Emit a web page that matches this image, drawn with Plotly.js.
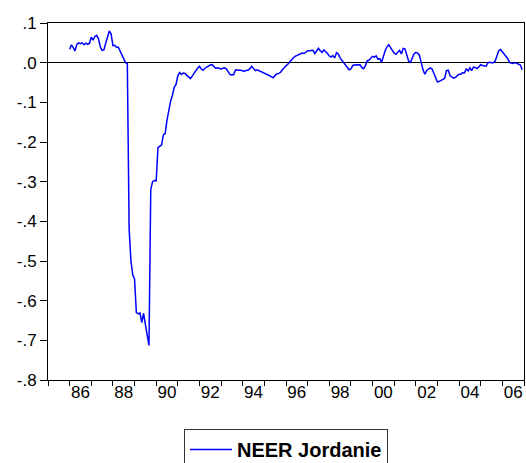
<!DOCTYPE html>
<html>
<head>
<meta charset="utf-8">
<script src="https://cdn.plot.ly/plotly-3.0.1.min.js"></script>
<style>html,body{margin:0;padding:0;background:#fff;}#chart{width:526px;height:463px;}</style>
</head>
<body>
<div id="chart"></div>
<script>
// Monthly NEER Jordanie, Jan 1986 – Dec 2006
const seriesName = "NEER Jordanie";
const startYear = 1986;
const neer = [
  // 1986
  0.034, 0.045, 0.038, 0.030, 0.046, 0.050, 0.048, 0.050, 0.045, 0.049, 0.046, 0.049,
  // 1987
  0.064, 0.057, 0.066, 0.069, 0.060, 0.040, 0.031, 0.032, 0.049, 0.066, 0.080, 0.072,
  // 1988
  0.043, 0.044, 0.039, 0.039, 0.029, 0.020, 0.007, 0.000, -0.002, -0.420, -0.500, -0.535,
  // 1989
  -0.545, -0.630, -0.633, -0.631, -0.655, -0.632, -0.660, -0.690, -0.713, -0.320, -0.300, -0.297,
  // 1990
  -0.298, -0.214, -0.211, -0.207, -0.182, -0.178, -0.145, -0.120, -0.097, -0.082, -0.062, -0.055,
  // 1991
  -0.033, -0.025, -0.030, -0.026, -0.027, -0.032, -0.037, -0.040, -0.034, -0.026, -0.020, -0.014,
  // 1992
  -0.009, -0.016, -0.019, -0.014, -0.011, -0.008, -0.006, -0.005, -0.011, -0.014, -0.013, -0.015,
  // 1993
  -0.016, -0.014, -0.013, -0.016, -0.024, -0.030, -0.031, -0.030, -0.018, -0.019, -0.019, -0.019,
  // 1994
  -0.020, -0.022, -0.019, -0.019, -0.015, -0.009, -0.015, -0.020, -0.018, -0.020, -0.022, -0.024,
  // 1995
  -0.027, -0.028, -0.029, -0.033, -0.036, -0.038, -0.032, -0.028, -0.027, -0.024, -0.018, -0.012,
  // 1996
  -0.008, -0.004, 0.002, 0.007, 0.012, 0.016, 0.018, 0.020, 0.022, 0.024, 0.023, 0.026,
  // 1997
  0.030, 0.030, 0.030, 0.031, 0.023, 0.030, 0.036, 0.030, 0.026, 0.032, 0.028, 0.023,
  // 1998
  0.017, 0.014, 0.018, 0.012, 0.025, 0.022, 0.012, 0.006, 0.001, -0.005, -0.010, -0.018,
  // 1999
  -0.016, -0.007, -0.006, -0.005, -0.006, -0.005, -0.012, -0.015, -0.008, 0.005, 0.006, 0.012,
  // 2000
  0.016, 0.014, 0.017, 0.009, 0.010, 0.001, 0.018, 0.030, 0.040, 0.045, 0.038, 0.030,
  // 2001
  0.024, 0.021, 0.025, 0.031, 0.022, 0.036, 0.035, 0.016, 0.004, 0.001, 0.014, 0.022,
  // 2002
  0.026, 0.024, 0.019, 0.000, -0.018, -0.029, -0.020, -0.016, -0.013, -0.016, -0.028, -0.038,
  // 2003
  -0.049, -0.047, -0.044, -0.042, -0.040, -0.020, -0.019, -0.033, -0.036, -0.039, -0.037, -0.032,
  // 2004
  -0.029, -0.029, -0.025, -0.026, -0.015, -0.021, -0.013, -0.020, -0.011, -0.012, -0.015, -0.010,
  // 2005
  -0.005, -0.007, -0.008, -0.009, 0.000, 0.001, 0.000, 0.000, 0.004, 0.020, 0.030, 0.033,
  // 2006
  0.027, 0.024, 0.018, 0.010, 0.000, -0.002, -0.002, 0.000, -0.002, -0.002, -0.006, -0.018
];
const xLabelYears = [1986, 1988, 1990, 1992, 1994, 1996, 1998, 2000, 2002, 2004, 2006];
const xLabels = ["86", "88", "90", "92", "94", "96", "98", "00", "02", "04", "06"];
const yTickVals = [0.1, 0.0, -0.1, -0.2, -0.3, -0.4, -0.5, -0.6, -0.7, -0.8];
const yTickText = [".1", ".0", "-.1", "-.2", "-.3", "-.4", "-.5", "-.6", "-.7", "-.8"];
const axisYears = [];
for (let y = 1985; y <= 2007; y++) axisYears.push(y);

const xs = neer.map((v, i) => startYear + i / 12);

const font = {family: "Liberation Sans, Arial, sans-serif", size: 17, color: "#000"};

Plotly.newPlot("chart", [{
  x: xs, y: neer, type: "scatter", mode: "lines", name: seriesName,
  line: {color: "#0000ff", width: 1.5}, showlegend: true
}], {
  width: 526, height: 463,
  margin: {l: 48, r: 2, t: 23, b: 83, autoexpand: false},
  paper_bgcolor: "#fff", plot_bgcolor: "#fff",
  font: font,
  showlegend: true,
  legend: {
    x: 0.5, xanchor: "center", y: -0.137, yanchor: "top",
    bordercolor: "#333", borderwidth: 1, bgcolor: "#fff",
    itemwidth: 42,
    font: {family: "Liberation Sans, Arial, sans-serif", size: 20, color: "#000", weight: "bold"}
  },
  xaxis: {
    range: [1985, 2007], showgrid: false, zeroline: false,
    showline: true, mirror: true, linecolor: "#000", linewidth: 1,
    tickmode: "array", tickvals: xLabelYears.map(y => y + 0.5), ticktext: xLabels,
    ticks: "outside", ticklen: 0, tickfont: font, ticklabelstandoff: -3,
    minor: {tickmode: "array", tickvals: axisYears, ticks: "outside", ticklen: 5, tickcolor: "#000", showgrid: false}
  },
  yaxis: {
    range: [-0.8, 0.1], showgrid: false,
    zeroline: true, zerolinecolor: "#000", zerolinewidth: 1,
    showline: true, mirror: true, linecolor: "#000", linewidth: 1,
    tickmode: "array", tickvals: yTickVals, ticktext: yTickText,
    ticks: "outside", ticklen: 7, tickcolor: "#000", tickfont: font
  }
}, {displayModeBar: false, staticPlot: true});
</script>
</body>
</html>
